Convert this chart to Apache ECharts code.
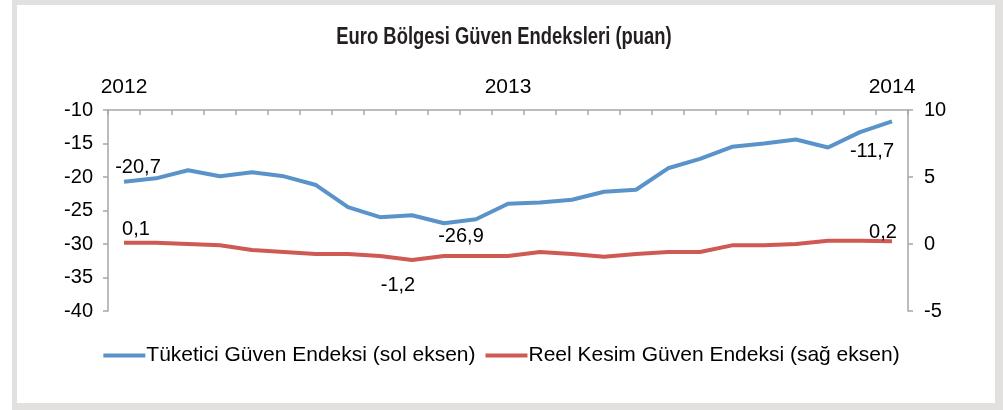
<!DOCTYPE html>
<html>
<head>
<meta charset="utf-8">
<script src="https://cdn.jsdelivr.net/npm/echarts@6/dist/echarts.min.js"></script>
<style>
  html, body { margin: 0; padding: 0; background: #fff; }
  #chart_container { width: 1003px; height: 410px; }
</style>
</head>
<body>
<div id="chart_container"></div>
<script>
// months Jan 2012 .. Jan 2014
const months = [
  '2012-01','2012-02','2012-03','2012-04','2012-05','2012-06','2012-07','2012-08','2012-09','2012-10','2012-11','2012-12',
  '2013-01','2013-02','2013-03','2013-04','2013-05','2013-06','2013-07','2013-08','2013-09','2013-10','2013-11','2013-12',
  '2014-01'
];

// Tüketici Güven Endeksi (sol eksen)
const consumer = [-20.7, -20.2, -19.0, -19.9, -19.3, -19.9, -21.2, -24.5, -26.0, -25.7, -26.9, -26.3,
  -24.0, -23.8, -23.4, -22.2, -21.9, -18.7, -17.3, -15.5, -15.0, -14.4, -15.6, -13.3, -11.7];

// Reel Kesim Güven Endeksi (sağ eksen)
const industry = [0.1, 0.1, 0.0, -0.1, -0.45, -0.6, -0.75, -0.75, -0.9, -1.2, -0.9, -0.9,
  -0.9, -0.6, -0.75, -0.95, -0.75, -0.6, -0.6, -0.1, -0.1, 0.0, 0.25, 0.25, 0.2];

const leftTicks = { min: -40, max: -10, step: 5 };
const rightTicks = { min: -5, max: 10, step: 5 };

const seriesNames = ['Tüketici Güven Endeksi (sol eksen)', 'Reel Kesim Güven Endeksi (sağ eksen)'];
const chartTitle = 'Euro Bölgesi Güven Endeksleri (puan)';

// which points carry a value label, and where
const consumerLabels = {
  0: { position: 'top', offset: [14, 1] },
  10: { position: 'bottom', offset: [17, -2] },
  24: { position: 'bottom', offset: [-20, 15] }
};
const industryLabels = {
  0: { position: 'top', offset: [12, 2] },
  9: { position: 'bottom', offset: [-14, 10] },
  24: { position: 'top', offset: [-9, 6] }
};

const font = 'Liberation Sans, Arial, sans-serif';
const fontSize = 20;
const axisGray = '#a6a6a6';

function comma(v) {
  return v.toFixed(1).replace('.', ',');
}

function build_data(values, labels) {
  return values.map((v, i) => {
    let item = { value: v };
    if (labels[i]) {
      item.label = {
        show: true,
        position: labels[i].position,
        offset: labels[i].offset,
        formatter: p => comma(p.value),
        fontSize: fontSize,
        color: '#000',
        fontFamily: font
      };
    }
    return item;
  });
}

function value_axis(ticks, pos, margin) {
  return {
    type: 'value',
    min: ticks.min,
    max: ticks.max,
    interval: ticks.step,
    position: pos,
    axisLine: { show: true, lineStyle: { color: axisGray, width: 1.5 } },
    axisTick: { show: true, length: 5, lineStyle: { color: axisGray, width: 1.5 } },
    axisLabel: { margin: margin, fontFamily: font, fontSize: fontSize, color: '#000' },
    splitLine: { show: false }
  };
}

document.addEventListener('DOMContentLoaded', function () {
  let chart = echarts.init(document.getElementById('chart_container'));

  let option = {
    animation: false,
    backgroundColor: '#fff',
    graphic: [
      { type: 'rect', shape: { x: 12, y: 0, width: 991, height: 410 }, style: { fill: '#e2e1df' }, z: -10 },
      { type: 'rect', shape: { x: 17, y: 5, width: 978, height: 398 }, style: { fill: '#fff' }, z: -9 },
      {
        // condensed bold title
        type: 'text',
        x: 504, y: 38,
        scaleX: 0.8,
        style: {
          text: chartTitle,
          fontFamily: font,
          fontWeight: 'bold',
          fontSize: 23,
          fill: '#231f20',
          align: 'center',
          verticalAlign: 'middle'
        }
      }
    ],
    legend: {
      top: 340,
      left: 'center',
      itemWidth: 42,
      itemHeight: 4,
      itemGap: 10,
      icon: 'rect',
      textStyle: { fontFamily: font, fontSize: 21, color: '#000', padding: [0, 0, 0, -4] },
      data: seriesNames
    },
    grid: { left: 108, right: 95, top: 110, bottom: 99 },
    xAxis: {
      type: 'category',
      position: 'top',
      data: months,
      boundaryGap: true,
      axisLine: { show: true, onZero: false, lineStyle: { color: axisGray, width: 1.5 } },
      axisTick: { show: true, inside: true, length: 5, interval: 0, lineStyle: { color: axisGray, width: 1.5 } },
      axisLabel: {
        interval: i => i % 12 === 0,
        formatter: v => v.slice(0, 4),
        margin: 12,
        fontFamily: font,
        fontSize: 21,
        color: '#000'
      },
      splitLine: { show: false }
    },
    yAxis: [
      value_axis(leftTicks, 'left', 15),
      value_axis(rightTicks, 'right', 16)
    ],
    series: [
      {
        name: seriesNames[0],
        type: 'line',
        yAxisIndex: 0,
        data: build_data(consumer, consumerLabels),
        symbol: 'circle',
        symbolSize: 0,
        color: '#5a93ca',
        lineStyle: { width: 4, color: '#5a93ca' }
      },
      {
        name: seriesNames[1],
        type: 'line',
        yAxisIndex: 1,
        data: build_data(industry, industryLabels),
        symbol: 'circle',
        symbolSize: 0,
        color: '#cf5953',
        lineStyle: { width: 4, color: '#cf5953' }
      }
    ]
  };

  chart.setOption(option);
});
</script>
</body>
</html>
